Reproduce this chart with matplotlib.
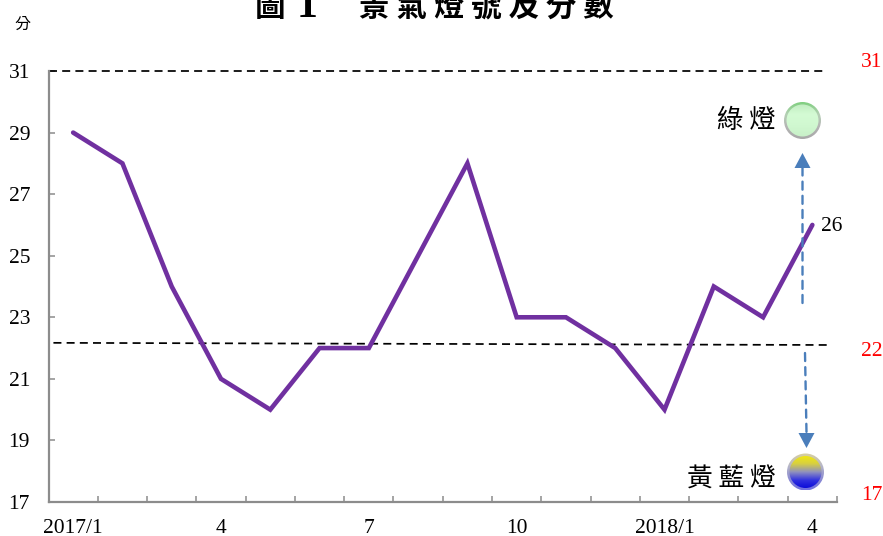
import numpy as np
import matplotlib
matplotlib.use("Agg")
import matplotlib.pyplot as plt
from matplotlib.colors import LinearSegmentedColormap
from matplotlib.patches import Circle, FancyArrowPatch

# Monthly composite score
months = ["2017/1", "2", "3", "4", "5", "6", "7", "8", "9", "10", "11", "12",
          "2018/1", "2", "3", "4"]
scores = [29, 28, 24, 21, 20, 22, 22, 25, 28, 23, 23, 22, 20, 24, 23, 26]
labelled_months = ["2017/1", "4", "7", "10", "2018/1", "4"]
labelled_index = [0, 3, 6, 9, 12, 15]
yticks = [17, 19, 21, 23, 25, 27, 29, 31]

# Signal thresholds
upper_limit = 31
lower_limit = [22.17, 22.1]
right_labels = ["31", "22", "17"]

W, H = 883, 536
SERIF = "Liberation Serif"
CJK = ["Noto Sans CJK TC", "DejaVu Sans"]
GRAY = "#8c8c8c"
BLUE = "#4a7ebb"


def fx(px):
    return px / W


def fy(py):
    return 1 - py / H


def lamp(cx, cy, r, colors, edge_colors):
    # round signal light with a vertical gradient, rim shaded the same way
    a = fig.add_axes([fx(cx - r - 3), fy(cy + r + 3), (2 * r + 6) / W, (2 * r + 6) / H])
    a.axis("off")
    grad = np.linspace(0, 1, 64).reshape(-1, 1)
    rim_cmap = LinearSegmentedColormap.from_list("rim", edge_colors)
    rim = a.imshow(grad, extent=(-r - 1.5, r + 1.5, -r - 1.5, r + 1.5),
                   cmap=rim_cmap, aspect="auto", origin="upper")
    rim.set_clip_path(Circle((0, 0), r + 1.5, transform=a.transData))
    cmap = LinearSegmentedColormap.from_list("lamp", colors)
    im = a.imshow(grad, extent=(-r, r, -r, r), cmap=cmap, aspect="auto", origin="upper")
    im.set_clip_path(Circle((0, 0), r - 1, transform=a.transData))
    a.set_xlim(-r - 3, r + 3)
    a.set_ylim(-r - 3, r + 3)


def dashed_arrow(start, tip):
    # the shaft stops at the base of the head, the tip is the end point
    d = 1 if tip[1] > start[1] else -1
    base_y = tip[1] - 15 * d
    fig.add_artist(FancyArrowPatch(
        (fx(start[0]), fy(start[1])), (fx(tip[0]), fy(base_y)),
        transform=fig.transFigure, arrowstyle="-", color=BLUE,
        lw=1.7, linestyle=(0, (3.4, 2.6)), shrinkA=0, shrinkB=0))
    head = plt.Polygon([(fx(tip[0]), fy(tip[1])),
                        (fx(tip[0] - 8), fy(base_y)),
                        (fx(tip[0] + 8), fy(base_y))],
                       closed=True, transform=fig.transFigure, color=BLUE, lw=0)
    fig.add_artist(head)


fig = plt.figure(figsize=(W / 100, H / 100), dpi=100)
ax = fig.add_axes([fx(48.5), fy(502), (837 - 48.5) / W, (502 - 71) / H])

x = np.arange(len(scores)) + 0.5
ax.plot(x, scores, color="#7030a0", lw=3.3, solid_capstyle="round",
        solid_joinstyle="miter", zorder=3)

# threshold lines
ax.plot([0, 15.77], [upper_limit, upper_limit], color="black", lw=1.25,
        linestyle=(0, (4.6, 3)), clip_on=False, zorder=2)
ax.plot([0.1, 15.87], lower_limit, color="black", lw=1.25,
        linestyle=(0, (4.6, 3)), clip_on=False, zorder=2)

ax.set_xlim(0, 16)
ax.set_ylim(17, 31)
ax.set_xticks(np.arange(1, 17))
ax.set_xticklabels([])
ax.set_yticks(yticks)
ax.set_yticklabels([str(v) for v in yticks], family=SERIF, fontsize=15.5)
ax.tick_params(axis="x", direction="in", length=4.5, width=1.1, color=GRAY)
ax.tick_params(axis="y", direction="in", length=4.5, width=1.1, color=GRAY, pad=21)
for lab in ax.get_yticklabels():
    lab.set_ha("center")
for side in ("top", "right"):
    ax.spines[side].set_visible(False)
for side in ("left", "bottom"):
    ax.spines[side].set_color(GRAY)
    ax.spines[side].set_linewidth(1.6)

for i, lab in zip(labelled_index, labelled_months):
    ax.annotate(lab, (x[i], 17), xytext=(0, -19), textcoords="offset points",
                ha="center", va="center", family=SERIF, fontsize=15.5)

# last value
ax.annotate(str(scores[-1]), (x[-1], scores[-1]), xytext=(6.5, -1),
            textcoords="offset points", ha="left", va="center",
            family=SERIF, fontsize=15.5)

# threshold values on the right
for s, py in zip(right_labels, [62, 351, 496]):
    fig.text(fx(872), fy(py), s, color="red", ha="center", va="center",
             family=SERIF, fontsize=15.5)

fig.text(fx(270), fy(7), "圖", ha="center", va="center",
         family=CJK, fontsize=22, fontweight="bold")
fig.text(fx(307), fy(7), "1", ha="center", va="center",
         family=SERIF, fontsize=30, fontweight="bold")
fig.text(fx(486), fy(7), "景 氣 燈 號 及 分 數", ha="center", va="center",
         family=CJK, fontsize=22, fontweight="bold")
fig.text(fx(22), fy(24), "分", ha="center", va="center", family=CJK, fontsize=11.5)
fig.text(fx(746), fy(120), "綠 燈", ha="center", va="center", family=CJK, fontsize=19)
fig.text(fx(731), fy(480), "黃 藍 燈", ha="center", va="center", family=CJK, fontsize=18.5)

lamp(802.5, 120.5, 17, ["#c0ecc0", "#d4fbd4", "#d0f8d0", "#c8f0c8"],
     ["#7fcf7f", "#b5d0b5", "#b5b5b5", "#a8a8a8"])
lamp(805.5, 472, 17, ["#f2e90f", "#d8d040", "#8f90c0", "#3030e0", "#0808d8"],
     ["#d8d0a0", "#b8b8c8", "#9090d0", "#7070e0"])

dashed_arrow((802.5, 303), (802.5, 153))
dashed_arrow((805, 353), (806.5, 448))

fig.savefig("out.png", dpi=100)
